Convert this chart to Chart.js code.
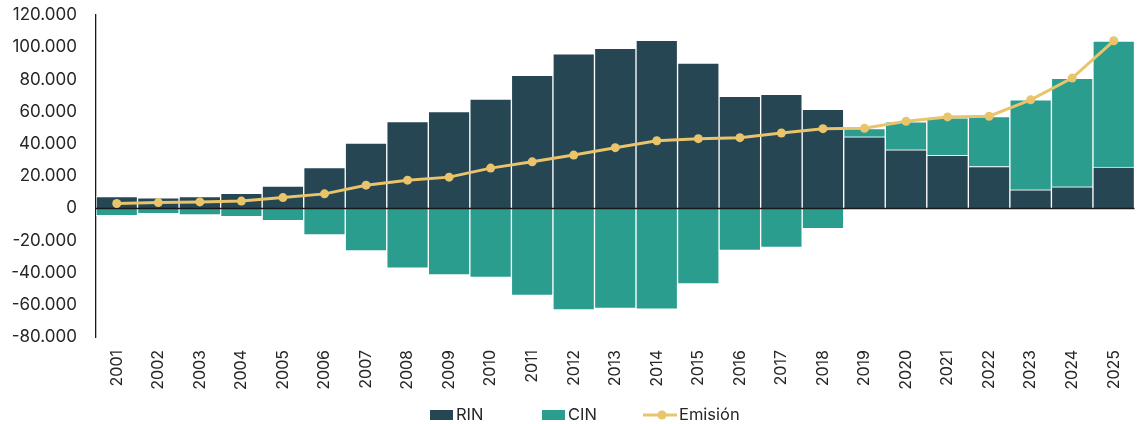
<!DOCTYPE html>
<html>
<head>
<meta charset="utf-8">
<script src="https://cdn.jsdelivr.net/npm/chart.js@4.4.1/dist/chart.umd.min.js"></script>
<style>
  html, body { margin: 0; padding: 0; background: #ffffff; }
  #wrap { width: 1139px; height: 424px; }
</style>
</head>
<body>
<div id="wrap"><canvas id="chart" width="1139" height="424"></canvas></div>
<script>
// Años de la serie
const years = ['2001','2002','2003','2004','2005','2006','2007','2008','2009','2010',
               '2011','2012','2013','2014','2015','2016','2017','2018','2019','2020',
               '2021','2022','2023','2024','2025'];

// Reservas internacionales netas
const rin = [7200, 6400, 7200, 9300, 13700, 25300, 40500, 53800, 60000, 67700,
             82600, 95900, 99300, 104200, 90100, 69500, 70800, 61400, 44400, 36300,
             32800, 25900, 11400, 13300, 25500];

// Crédito interno neto
const cin = [-4600, -3400, -4200, -5200, -7700, -16600, -26600, -37200, -41400, -43000,
             -54200, -63200, -62300, -62700, -47000, -26200, -24300, -12700, 5000, 17300,
             23300, 31000, 55900, 67300, 78300];

// Emisión monetaria
const emision = [2900, 3500, 3900, 4400, 6600, 8900, 14300, 17400, 19300, 24900,
                 28800, 33000, 37600, 41900, 43200, 43800, 46700, 49400, 49600, 54000,
                 56700, 57100, 67300, 80800, 104000];

// Eje vertical
const yMin = -80000;
const yMax = 120000;
const yStep = 20000;

const COLOR_RIN = '#264653';
const COLOR_CIN = '#2a9d8f';
const COLOR_EMI = '#e9c46a';
const TEXT = '#262626';
const FONT = 'Inter, "Noto Sans", sans-serif';

function formatMiles(v) {
  const neg = v < 0;
  let s = String(Math.abs(Math.round(v)));
  s = s.replace(/\B(?=(\d{3})+(?!\d))/g, '.');
  return (neg ? '-' : '') + s;
}

// Línea de cero por encima de las barras y debajo de la línea de emisión
const zeroLine = {
  id: 'zeroLine',
  beforeDatasetDraw(chart, args) {
    if (args.meta.type !== 'line') return;
    const { ctx, chartArea, scales } = chart;
    const y = Math.round(scales.y.getPixelForValue(0)) + 0.5;
    ctx.save();
    ctx.strokeStyle = '#1a1a1a';
    ctx.lineWidth = 1.3;
    ctx.beginPath();
    ctx.moveTo(chartArea.left, y);
    ctx.lineTo(chartArea.right, y);
    ctx.stroke();
    ctx.restore();
  }
};

// Leyenda inferior
const bottomLegend = {
  id: 'bottomLegend',
  afterDraw(chart, args, opts) {
    const ctx = chart.ctx;
    ctx.save();
    ctx.font = '16.5px ' + FONT;
    ctx.textBaseline = 'middle';
    const cy = opts.y;
    chart.data.datasets.forEach((ds, i) => {
      const x = opts.starts[i];
      if (ds.type === 'line') {
        ctx.strokeStyle = ds.borderColor;
        ctx.lineWidth = 3;
        ctx.beginPath();
        ctx.moveTo(x, cy);
        ctx.lineTo(x + 34, cy);
        ctx.stroke();
        ctx.fillStyle = ds.borderColor;
        ctx.beginPath();
        ctx.arc(x + 19, cy, 4.5, 0, Math.PI * 2);
        ctx.fill();
        ctx.fillStyle = TEXT;
        ctx.fillText(ds.label, x + 36, cy);
      } else {
        ctx.fillStyle = ds.backgroundColor;
        ctx.fillRect(x, cy - 5, 23, 10);
        ctx.fillStyle = TEXT;
        ctx.fillText(ds.label, x + 26, cy);
      }
    });
    ctx.restore();
  }
};

new Chart(document.getElementById('chart'), {
  data: {
    labels: years,
    datasets: [
      {
        type: 'bar', label: 'RIN', data: rin, stack: 'reservas', order: 1,
        backgroundColor: COLOR_RIN, borderColor: 'rgba(255,255,255,0.75)', borderWidth: 1,
        barPercentage: 1, categoryPercentage: 1
      },
      {
        type: 'bar', label: 'CIN', data: cin, stack: 'reservas', order: 1,
        backgroundColor: COLOR_CIN, borderColor: 'rgba(255,255,255,0.75)', borderWidth: 1,
        barPercentage: 1, categoryPercentage: 1
      },
      {
        type: 'line', label: 'Emisión', data: emision, stack: 'emision', order: 0,
        borderColor: COLOR_EMI, backgroundColor: COLOR_EMI, borderWidth: 3,
        pointRadius: 4.5, pointBackgroundColor: COLOR_EMI, pointBorderWidth: 0,
        tension: 0, fill: false
      }
    ]
  },
  options: {
    responsive: false,
    animation: false,
    devicePixelRatio: 1,
    layout: { padding: { top: 15, right: 1, bottom: 0, left: 0 } },
    plugins: {
      legend: { display: false },
      tooltip: { enabled: false },
      bottomLegend: { y: 415, starts: [430, 542, 643] }
    },
    scales: {
      x: {
        stacked: true,
        grid: { display: false, drawTicks: true, tickLength: 13 },
        border: { display: false },
        ticks: {
          autoSkip: false, minRotation: 90, maxRotation: 90, padding: 0,
          color: TEXT, font: { family: FONT, size: 16 }
        },
        afterFit(scale) { scale.height = 87; }
      },
      y: {
        stacked: true,
        min: yMin, max: yMax,
        grid: { display: false, drawTicks: true, tickLength: 19 },
        border: { display: true, color: '#1a1a1a', width: 1.3 },
        ticks: {
          stepSize: yStep, padding: 0, color: TEXT,
          font: { family: FONT, size: 17 },
          callback: (v) => formatMiles(v)
        },
        afterFit(scale) { scale.width = 96; }
      }
    }
  },
  plugins: [zeroLine, bottomLegend]
});
</script>
</body>
</html>
